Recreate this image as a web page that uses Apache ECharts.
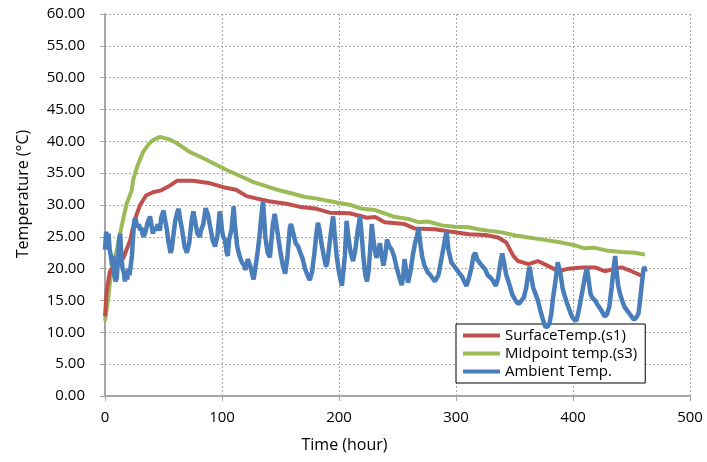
<!DOCTYPE html>
<html>
<head>
<meta charset="utf-8">
<script src="https://cdn.jsdelivr.net/npm/echarts@6/dist/echarts.min.js"></script>
<style>html,body{margin:0;padding:0;background:#fff}#c{width:707px;height:462px}</style>
</head>
<body>
<div id="c"></div>
<script>
var seriesNames = ['SurfaceTemp.(s1)', 'Midpoint temp.(s3)', 'Ambient Temp.'];
var xTicks = [0, 100, 200, 300, 400, 500];
var yTicks = [0, 5, 10, 15, 20, 25, 30, 35, 40, 45, 50, 55, 60];

var surfaceTime = [0,1.4,4.3,10,15.7,21.4,24,27,30,35,41,48,55,61.5,75,90,101,112,121,130,140,155,167,181,192,209,224,231,239,256,265,282,296,311,325,336,343,349,353,362,370,379,387.5,396,408,419,427,441.5,450,458.5];
var surfaceTemp = [12.5,16.5,19.6,20.7,21.7,24.4,26.5,28.5,30,31.5,32,32.3,33,33.8,33.8,33.4,32.8,32.4,31.4,31.0,30.6,30.2,29.7,29.4,28.8,28.7,28.0,28.1,27.3,27.0,26.3,26.2,25.8,25.4,25.3,24.9,24.1,22,21.2,20.7,21.2,20.4,19.6,20.0,20.2,20.2,19.6,20.2,19.6,18.9];

var midTime = [0,2.8,5.7,10,14,18.5,22.8,24,28,32.5,37,41,47,55,61.5,72.6,80,90,104,115,127,137,147,160,170,181,198,210,220,231,248,259.5,268,276,288,299,311,319,330,339,351,362,373,390,401,410,418,430,441,453,461.5];
var midTemp = [11.8,15.4,20.2,22.8,26.5,30.2,32.3,33.9,36.3,38.3,39.5,40.2,40.7,40.3,39.7,38.3,37.7,36.8,35.5,34.6,33.6,33.0,32.4,31.8,31.3,31.0,30.4,30.0,29.4,29.2,28.1,27.8,27.3,27.4,26.8,26.6,26.5,26.2,25.9,25.7,25.2,24.9,24.6,24.1,23.7,23.2,23.3,22.8,22.6,22.5,22.2];

var ambientTime = [0,1,2,3,4,5,6,7,8,9,10,11,12,13,14,15,16,17,18,19,20,21,22,23,24,25,26,27,28,29,30,31,32,33,34,35,36,37,38.5,40,41,42,44,45,47,48,50,51,53,54,56,57,58,60,62,63,64,66,68,70,72,74,75.5,77,79,81,82,84,86,87,88,90,92,94,96,98,99,100,101,102.5,104,105,106,108,110,111,113,115,117,119,120,122,124,126,127,128,130,132,133.5,135,136,137,139,141,142,143.5,145,146,148,150,152,154,156,158,159,161,163,165,167,169,171,173,175,177,179,181,182,183.5,185,187,189,190,192,194,195,196.5,198,199.5,201,202.5,204,205,206.5,208,210,212,214,216,218,219.5,221,222.5,224,225.5,227,228,229.5,231,232,233.5,235,236.5,238,239.5,241,243,245,247,249,251,253.6,255,256,257.5,259,261,263,265,266.5,268,269.5,271,273,276,278,280,282,283,285,287,289,291,292,293.5,296,298,300,302,305,307,309,311,313,315,316.5,318,320,322,325,327,330,332,334,336,338,339.5,341,343,346,348,350,352,354,356,358,360,362,363,364,366,368,370,372,374,376,378,380,381.5,383,385,387,388,389.5,391,393,395,397,399,401,403,405,407,409,411,412,413.5,415,417,419,421,423,425,427,429,431,433,435,436,437,438.5,440,442,444,446,448,450,452,454,456,457,458.5,460,461,462];
var ambientTemp = [23,25.8,24.5,25.5,23,22,20.5,22,19,18,18.5,21,24.5,25.5,22,20,19.5,18,19,18.3,20,19,20.5,22,25,27.5,28,27,26.5,27,26,26.5,25.5,25,25.2,26,27,27.5,28.2,26.5,25.5,26.5,26,27,26,28,29.1,28,26,24.5,22.5,23,24.5,27.5,29,29.4,28,26,23.5,22.5,24,27.5,29,27.5,25.5,25,26,27,29.5,29.2,28.5,26.5,24.5,23.5,25,29,28,26,25,24.5,22.5,22,24.5,26,29.8,27,23.5,22,21,20.5,19.8,21.5,20.5,19,18.3,19.5,22,25,28,30.6,28,25,22.5,21.8,24,27,28.6,27.5,25,22.5,20.5,19.2,22,26.5,27,25.5,24,23.5,22.5,21.5,20,19,18.2,19.5,22.5,26,27.2,26,24,22,20.3,21,24,27,28.2,25,22,20,18.5,17.3,17.5,22,27.5,25,22.5,21.2,23,26,28.2,25,21.5,19,18,20,24,27,24.5,22.5,21.7,22.5,24,22,20.5,22,24.6,23.5,23,22,20.4,19,17.4,19,21.5,19.5,17.8,19.5,22,24,25,26.3,24,22,20.5,19.4,19,18.5,18,17.8,19,21,23,25,25.8,23,21,20.5,20,19.5,18.8,18,17.3,18.5,20,22,22.5,21.5,21,20.5,19.9,19,18.5,18,17.3,18.5,21,22.4,21,19,17.3,16,15.3,14.7,14.5,15,15.5,17,19.5,20.3,19,17,16,15,13.5,12.2,11,10.8,11.5,13,15.5,18,21,21.3,19,17,15.7,14.5,13.5,12.5,12,11.8,13.5,15.5,17.5,19.5,20,18,16,15.3,15,14.3,13.8,13.2,12.5,12.8,14,17,20.5,22,20,17.5,16.2,15,14,13.5,13,12.5,12,12.3,13,14.5,17,19.5,20.3,19.5];

function pairs(t, v) { return t.map(function (x, i) { return [x, v[i]]; }); }

var FONT = 'Open Sans';
var chart = echarts.init(document.getElementById('c'), null, { renderer: 'canvas' });
chart.setOption({
  animation: false,
  backgroundColor: '#ffffff',
  color: ['#C0504D', '#9BBB59', '#4A7EBB'],
  grid: { left: 105, right: 17, top: 14, bottom: 66, containLabel: false },
  legend: {
    orient: 'vertical',
    left: 456, top: 324,
    data: seriesNames,
    icon: 'rect',
    itemWidth: 37, itemHeight: 4, itemGap: 3,
    padding: [4, 8, 4, 7],
    backgroundColor: '#ffffff',
    borderColor: '#000000', borderWidth: 1,
    textStyle: { fontFamily: FONT, fontSize: 15, color: '#000' }
  },
  xAxis: {
    type: 'value', min: xTicks[0], max: xTicks[xTicks.length - 1], interval: 100,
    name: 'Time (hour)', nameLocation: 'middle', nameGap: 41,
    nameTextStyle: { fontFamily: FONT, fontSize: 16, color: '#000', padding: [0, 106, 0, 0] },
    axisLine: { lineStyle: { color: '#a6a6a6', width: 2 } },
    axisTick: { show: true, length: 5, lineStyle: { color: '#a6a6a6', width: 1 } },
    axisLabel: { fontFamily: FONT, fontSize: 15, color: '#000', margin: 14 },
    splitLine: { show: true, lineStyle: { color: '#a6a6a6', type: [2, 2], width: 1 } }
  },
  yAxis: {
    type: 'value', min: yTicks[0], max: yTicks[yTicks.length - 1], interval: 5,
    name: 'Temperature (°C)', nameLocation: 'middle', nameGap: 74, nameRotate: 90,
    nameTextStyle: { fontFamily: FONT, fontSize: 16, color: '#000', padding: [0, 0, 0, 22] },
    axisLine: { show: true, lineStyle: { color: '#a6a6a6', width: 2 } },
    axisTick: { show: true, length: 5, lineStyle: { color: '#a6a6a6', width: 1 } },
    axisLabel: { fontFamily: FONT, fontSize: 15, color: '#000', margin: 20,
      formatter: function (v) { return v.toFixed(2); } },
    splitLine: { show: true, lineStyle: { color: '#a6a6a6', type: [2, 2], width: 1 } }
  },
  series: [
    { name: seriesNames[0], type: 'line', data: pairs(surfaceTime, surfaceTemp), showSymbol: false, symbol: 'none', lineStyle: { width: 4 }, z: 3 },
    { name: seriesNames[1], type: 'line', data: pairs(midTime, midTemp), showSymbol: false, symbol: 'none', lineStyle: { width: 4 }, z: 2 },
    { name: seriesNames[2], type: 'line', data: pairs(ambientTime, ambientTemp), showSymbol: false, symbol: 'none', lineStyle: { width: 4.5 }, z: 4 }
  ]
});
</script>
</body>
</html>
